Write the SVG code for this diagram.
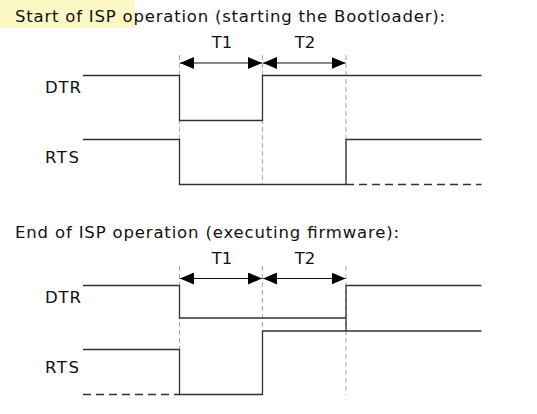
<svg xmlns="http://www.w3.org/2000/svg" width="537" height="414" viewBox="0 0 537 414">
<style>
text{font-family:"DejaVu Sans",Verdana,sans-serif;font-size:16.5px;fill:#111}
.sig{fill:none;stroke:#333;stroke-width:1.3}
.grid{fill:none;stroke:#aaa;stroke-width:1;stroke-dasharray:5 3}
.dash{fill:none;stroke:#333;stroke-width:1.3;stroke-dasharray:8 5}
.dim{fill:none;stroke:#111;stroke-width:1.2;marker-start:url(#ah);marker-end:url(#ah)}
</style>
<defs>
<marker id="ah" viewBox="0 0 14 12" refX="14" refY="6" markerWidth="14" markerHeight="12" markerUnits="userSpaceOnUse" orient="auto-start-reverse">
<path d="M0,0L14,6L0,12z" fill="#000"/>
</marker>
</defs>
<rect x="0" y="0" width="135" height="28" fill="#fcf8c4"/>
<g id="title1"><text x="15" y="22" textLength="430" lengthAdjust="spacing">Start of ISP operation (starting the Bootloader):</text></g>
<g id="title2"><text x="15" y="238" textLength="384" lengthAdjust="spacing">End of ISP operation (executing firmware):</text></g>
<g id="labels">
<text x="45" y="93" textLength="36">DTR</text>
<text x="45" y="163" textLength="34">RTS</text>
<text x="45" y="303" textLength="36">DTR</text>
<text x="45" y="373" textLength="34">RTS</text>
<text x="222" y="48" text-anchor="middle">T1</text>
<text x="305" y="48" text-anchor="middle">T2</text>
<text x="222" y="264" text-anchor="middle">T1</text>
<text x="305" y="264" text-anchor="middle">T2</text>
</g>
<g id="connectors">
<path class="grid" d="M179.5,55V184M262.5,55V184M346,55V184"/>
<path class="grid" d="M179.5,266V395M262.5,266V395M346,266V395"/>
<path class="dim" d="M180,63H262"/>
<path class="dim" d="M263,63H345.5"/>
<path class="dim" d="M180,278.5H262"/>
<path class="dim" d="M263,278.5H345.5"/>
<path class="sig" d="M83,75.5H179.5V120.5H262.5V75.5H481.5"/>
<path class="sig" d="M83,139.5H179.5V184.5H346V139.5H481.5"/>
<path class="dash" d="M346,184.5H481.5"/>
<path class="sig" d="M83,285.5H179.5V318H346V285.5H481.5"/>
<path class="sig" d="M83,349.5H179.5V394.5H262.5V331H481.5"/>
<path class="sig" d="M346,318V331"/>
<path class="dash" d="M83,394.5H179.5"/>
</g>
</svg>
